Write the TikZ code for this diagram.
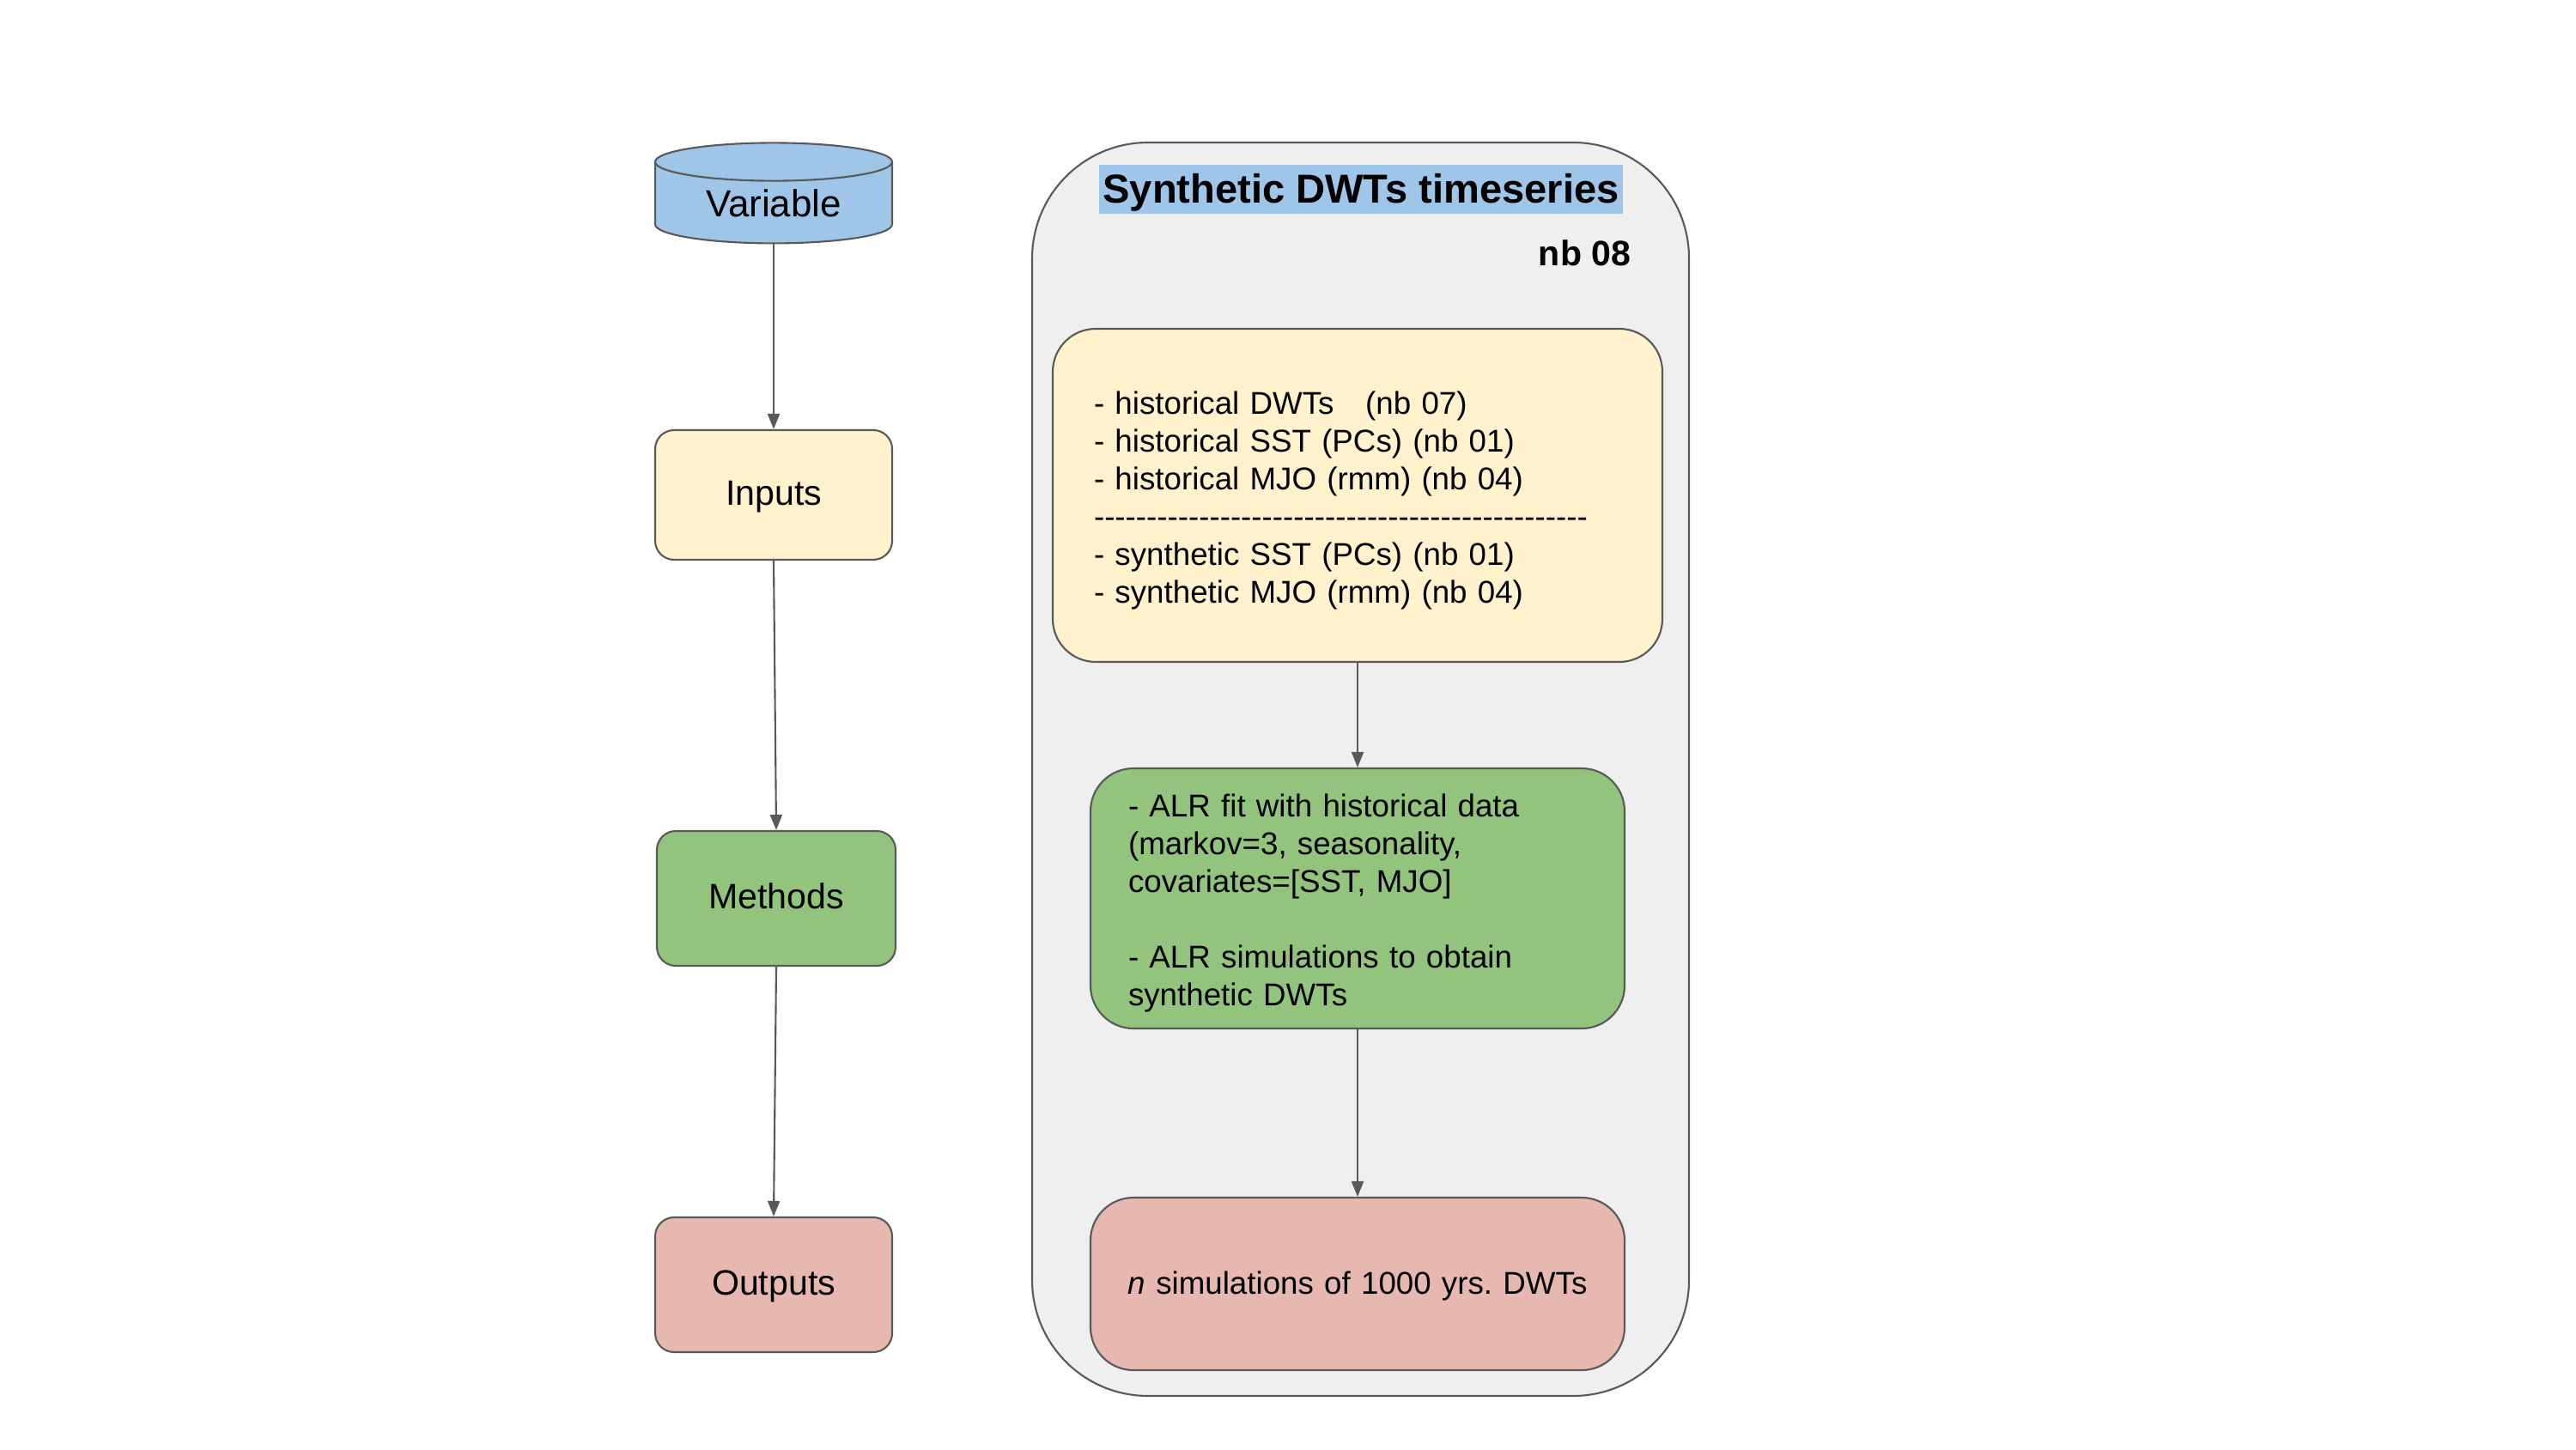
\documentclass[tikz,border=0pt]{standalone}
\usepackage{fontspec}
\setmainfont{Liberation Sans}
\usetikzlibrary{arrows.meta,shapes.geometric}
\definecolor{edgegray}{HTML}{595959}
\definecolor{varblue}{HTML}{9FC5E8}
\definecolor{inyellow}{HTML}{FFF2CC}
\definecolor{methgreen}{HTML}{93C47D}
\definecolor{outred}{HTML}{E6B8AF}
\definecolor{panelgray}{HTML}{EFEFEF}
\newcommand{\dashline}{\foreach \k in {1,...,47}{-\kern0pt}}
\newcommand{\topgap}{\rule{0pt}{1.04em}}

\begin{document}
\begin{tikzpicture}[
    x=1cm,y=1cm,
    store/.style={cylinder,shape border rotate=90,aspect=0.28,draw=edgegray,line width=0.6pt,fill=varblue,minimum width=2.76cm,minimum height=1.17cm,inner sep=0pt,font=\fontsize{12.5}{15}\selectfont},
    stage/.style={draw=edgegray,line width=0.6pt,rounded corners=0.22cm,minimum width=2.76cm,inner sep=0pt,text height=0.905em,text depth=0.212em,font=\fontsize{11.7}{14}\selectfont},
    panel/.style={draw=edgegray,line width=0.6pt,fill=panelgray,rounded corners=1.35cm,minimum width=7.65cm,minimum height=14.6cm,inner sep=0pt},
    detail/.style={draw=edgegray,line width=0.6pt,rounded corners=0.5cm,align=left,font=\fontsize{10.45}{12.5}\selectfont},
    arrow/.style={-{Triangle[length=0.18cm,width=0.14cm]},line width=0.6pt,edgegray}
]
\useasboundingbox (0,0) rectangle (30,16.88);

% Legend column
\node[store] (variable) at (9.01,14.515) {Variable};
\node[stage,fill=inyellow,minimum height=1.51cm] (inputs) at (9.01,11.115) {Inputs};
\node[stage,fill=methgreen,minimum width=2.78cm,minimum height=1.57cm] (methods) at (9.04,6.415) {Methods};
\node[stage,fill=outred,minimum height=1.57cm] (outputs) at (9.01,1.915) {Outputs};
\draw[arrow] (variable.south) -- (inputs.north);
\draw[arrow] (inputs.south) -- (methods.north);
\draw[arrow] (methods.south) -- (outputs.north);

% Notebook panel
\node[panel] (panel) at (15.845,7.92) {};
\node[anchor=base,fill=varblue,minimum width=6.1cm,inner sep=0pt,text height=0.447cm,text depth=0.123cm,font=\bfseries\fontsize{13.4}{15}\selectfont] (title) at (15.85,14.513) {Synthetic DWTs timeseries};
\node[anchor=base east,inner sep=0pt,font=\bfseries\fontsize{11.7}{14}\selectfont] (nbnum) at (19.0,13.78) {nb 08};

\node[detail,fill=inyellow,text width=6.14cm,inner xsep=0.48cm,minimum height=3.88cm] (inlist) at (15.81,11.11)
  {\topgap- historical DWTs\ \ \ (nb 07)\\- historical SST (PCs) (nb 01)\\- historical MJO (rmm) (nb 04)\\\dashline\\- synthetic SST (PCs) (nb 01)\\- synthetic MJO (rmm) (nb 04)};
\node[detail,fill=methgreen,text width=5.34cm,inner xsep=0.44cm,minimum height=3.03cm] (alr) at (15.81,6.415)
  {\topgap- ALR fit with historical data\\(markov=3, seasonality,\\covariates=[SST, MJO]\\ \mbox{}\\- ALR simulations to obtain\\synthetic DWTs};
\node[detail,fill=outred,align=center,text width=5.9cm,inner xsep=0.16cm,text height=0.905em,text depth=0.212em,minimum height=2.01cm] (sims) at (15.81,1.925)
  {\textit{n} simulations of 1000 yrs.\ DWTs};
\draw[arrow] (inlist) -- (alr);
\draw[arrow] (alr) -- (sims);
\end{tikzpicture}
\end{document}
